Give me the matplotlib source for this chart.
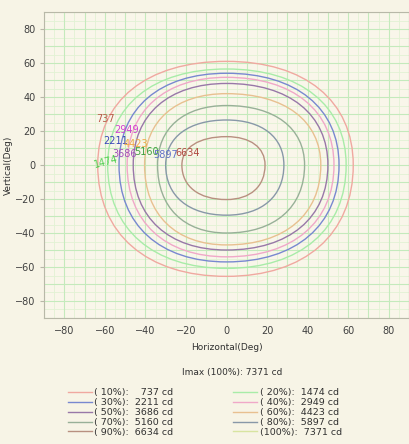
import matplotlib
matplotlib.use("Agg")
import matplotlib.pyplot as plt
from matplotlib.path import Path
from matplotlib.patches import PathPatch
from matplotlib.lines import Line2D
import numpy as np

imax = 7371
percent = [10, 20, 30, 40, 50, 60, 70, 80, 90, 100]
candela = [737, 1474, 2211, 2949, 3686, 4423, 5160, 5897, 6634, 7371]

# extents of each iso-candela line (deg), 10% .. 90%
left = [-63.5, -58.6, -53.0, -49.0, -46.0, -40.4, -34.0, -30.0, -22.0]
right = [62.5, 59.0, 55.5, 53.0, 50.0, 46.5, 38.5, 28.3, 19.0]
top = [61.0, 56.5, 54.0, 51.6, 48.0, 42.0, 35.0, 26.5, 16.7]
bottom = [-65.5, -60.8, -57.0, -54.0, -50.0, -47.0, -40.0, -29.5, -20.3]

# value labels sitting at the left end of the lines
lab_text = ["737", "2949", "2211", "4423", "3686", "5160", "5897", "6634", "1474"]
lab_x = [-59.7, -49.3, -54.5, -44.5, -50.2, -39.3, -29.9, -19.4, -59.2]
lab_y = [27.0, 20.6, 14.0, 12.4, 6.5, 7.6, 5.9, 7.0, 1.8]
lab_col = ["#b85a48", "#d040d0", "#3848b8", "#f0a848", "#a050b8",
           "#40a040", "#6070c8", "#b04840", "#50d050"]

line_col = ["#f0a8a0", "#a8eca8", "#7888d0", "#f0a8c8", "#9878a8",
            "#e8c090", "#98b098", "#8898a8", "#b89080", "#d8e4a0"]

K = 0.62  # bezier roundness


def iso_path(l, r, t, b):
    verts = [(r, 0), (r, K * t), (K * r, t), (0, t),
             (K * l, t), (l, K * t), (l, 0),
             (l, K * b), (K * l, b), (0, b),
             (K * r, b), (r, K * b), (r, 0)]
    codes = [Path.MOVETO] + [Path.CURVE4] * 12
    return Path(verts, codes)


fig = plt.figure(figsize=(4.09, 4.44), dpi=100, facecolor="#f7f4e6")
ax = fig.add_axes([0.1076, 0.2838, 0.8924, 0.689])
ax.set_facecolor("#f9f6ea")

ax.set_xlim(-90, 84)
ax.set_ylim(-90, 90)
ax.set_xticks(np.arange(-80, 81, 20))
ax.set_yticks(np.arange(-80, 81, 20))
ax.set_xticks(np.arange(-90, 91, 10), minor=True)
ax.set_yticks(np.arange(-90, 91, 10), minor=True)
for v in np.arange(-85, 90, 10):
    ax.axvline(v, color="#e2f2d4", lw=0.6, zorder=0)
    ax.axhline(v, color="#e2f2d4", lw=0.6, zorder=0)
ax.grid(True, which="both", color="#c4eabc", lw=0.8, zorder=0)
ax.set_axisbelow(True)

for i in range(9):
    p = iso_path(left[i], right[i], top[i], bottom[i])
    ax.add_patch(PathPatch(p, fill=False, ec=line_col[i], lw=1.0, zorder=2))

for t, x, y, c in zip(lab_text, lab_x, lab_y, lab_col):
    rot = 15 if t == "1474" else 0
    ax.text(x, y, t, color=c, fontsize=7, ha="center", va="center",
            rotation=rot, zorder=3)

for s in ax.spines.values():
    s.set_color("#b8b8a8")
    s.set_linewidth(0.8)
ax.tick_params(which="both", length=0, labelsize=7, colors="#404040", pad=6)
ax.tick_params(which="major", axis="y", length=3, color="#b8b8a8", pad=3)
ax.set_xlabel("Horizontal(Deg)", fontsize=6.5, color="#303030", labelpad=5)
ax.set_ylabel("Vertical(Deg)", fontsize=6.5, color="#303030")
ax.yaxis.set_label_coords(-0.085, 0.5)

fig.text(232 / 409, 1 - 372 / 444, "Imax (100%%): %d cd" % imax,
         fontsize=6.5, color="#303030", ha="center", va="center")

labels = []
for p, c in zip(percent, candela):
    pct = "(%d%%):" % p if p == 100 else "( %d%%):" % p
    num = str(c) if c >= 1000 else "  " + str(c)
    labels.append(pct + "  " + num + " cd")
handles = [Line2D([], [], color=c, lw=1.0) for c in line_col]
order = [0, 2, 4, 6, 8, 1, 3, 5, 7, 9]
fig.legend([handles[i] for i in order], [labels[i] for i in order], ncol=2,
           loc="upper left", bbox_to_anchor=(68 / 409, 1 - 388 / 444),
           frameon=False, fontsize=6.8, handlelength=2.5, handletextpad=0.3,
           labelspacing=0.1, columnspacing=6.3, borderpad=0, borderaxespad=0,
           labelcolor="#303030")

fig.savefig("out.png", dpi=100, facecolor=fig.get_facecolor())
